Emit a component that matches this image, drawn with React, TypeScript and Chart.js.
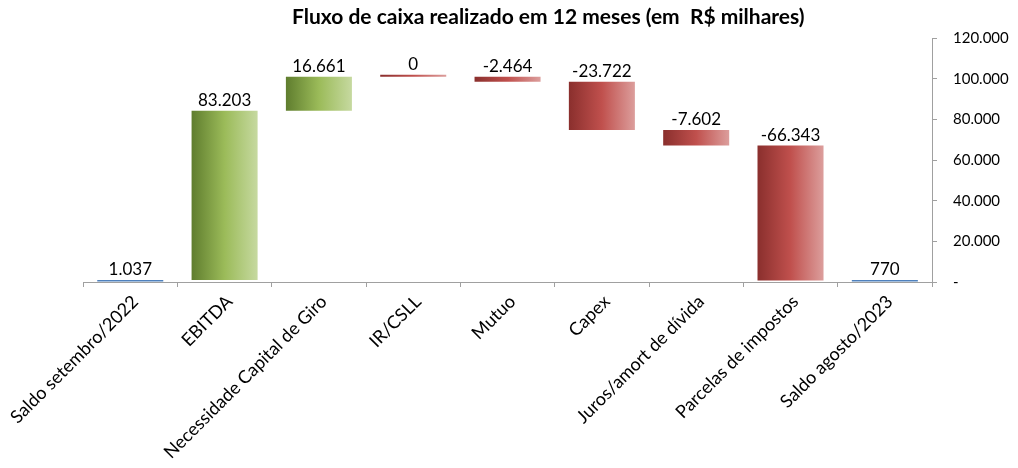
import React, { useEffect, useRef } from 'react';
import { Chart, registerables } from 'chart.js';

Chart.register(...registerables);

const titleText = 'Fluxo de caixa realizado em 12 meses (em  R$ milhares)';
const categories = [
  'Saldo setembro/2022',
  'EBITDA',
  'Necessidade Capital de Giro',
  'IR/CSLL',
  'Mutuo',
  'Capex',
  'Juros/amort de dívida',
  'Parcelas de impostos',
  'Saldo agosto/2023',
];
const changes = [1037, 83203, 16661, 0, -2464, -23722, -7602, -66343, 770];
const isTotal = [true, false, false, false, false, false, false, false, true];
const yMin = 0;
const yMax = 120000;
const yStep = 20000;

const FONT = 'Lato, "Open Sans", sans-serif';
const BAR_PCT = 0.7;

function fmt(v: number): string {
  const neg = v < 0;
  const s = Math.round(Math.abs(v)).toString();
  const withDots = s.replace(/\B(?=(\d{3})+(?!\d))/g, '.');
  return (neg ? '-' : '') + withDots;
}

function buildRanges(): [number, number][] {
  let running = 0;
  return changes.map((c, i) => {
    if (isTotal[i]) {
      running = c;
      return [0, c] as [number, number];
    }
    const r: [number, number] = [running, running + c];
    running += c;
    return r;
  });
}

const labelPlugin = {
  id: 'valueLabels',
  afterDatasetsDraw(chart: any) {
    const ctx = chart.ctx;
    const meta = chart.getDatasetMeta(0);
    ctx.save();
    ctx.font = `17px ${FONT}`;
    ctx.fillStyle = '#000';
    ctx.textAlign = 'center';
    ctx.textBaseline = 'bottom';
    meta.data.forEach((el: any, i: number) => {
      const top = Math.min(el.y, el.base);
      ctx.fillText(fmt(changes[i]), el.x, top - 2);
    });
    ctx.restore();
  },
};

const titlePlugin = {
  id: 'customTitle',
  afterDraw(chart: any) {
    const ctx = chart.ctx;
    const area = chart.chartArea;
    ctx.save();
    ctx.font = `bold 21px ${FONT}`;
    ctx.fillStyle = '#000';
    ctx.textAlign = 'center';
    ctx.textBaseline = 'alphabetic';
    ctx.fillText(titleText, area.left + (area.right - area.left) * 0.548, 24);
    ctx.restore();
  },
};

export default function App() {
  const ref = useRef<HTMLCanvasElement | null>(null);

  useEffect(() => {
    document.body.style.margin = '0';
    const canvas = ref.current;
    if (!canvas) return;
    const ranges = buildRanges();

    const colorFor = (c: any) => {
      const i = c.dataIndex;
      if (isTotal[i]) return '#4f81bd';
      const chart = c.chart;
      const xs = chart.scales.x;
      if (!xs || xs.width === undefined) return changes[i] > 0 ? '#9bbb59' : '#c0504d';
      const cx = xs.getPixelForValue(i);
      const w = (xs.width / categories.length) * BAR_PCT;
      const g = chart.ctx.createLinearGradient(cx - w / 2, 0, cx + w / 2, 0);
      if (changes[i] > 0) {
        g.addColorStop(0, '#5f7d2e');
        g.addColorStop(0.5, '#9bbb59');
        g.addColorStop(1, '#c6d9a0');
      } else {
        g.addColorStop(0, '#8a2f2d');
        g.addColorStop(0.5, '#c0504d');
        g.addColorStop(1, '#dc9e9c');
      }
      return g;
    };

    const chart = new Chart(canvas, {
      type: 'bar',
      data: {
        labels: categories,
        datasets: [
          {
            data: ranges as any,
            backgroundColor: colorFor as any,
            borderWidth: 0,
            barPercentage: BAR_PCT,
            categoryPercentage: 1,
            minBarLength: 2,
          },
        ],
      },
      options: {
        animation: false,
        responsive: true,
        maintainAspectRatio: false,
        layout: { padding: { top: 38, left: 83, right: 0, bottom: 0 } },
        plugins: {
          legend: { display: false },
          title: { display: false },
          tooltip: { enabled: false },
        },
        scales: {
          x: {
            afterFit: (s: any) => {
              s.height = 186;
            },
            grid: {
              offset: true,
              drawOnChartArea: false,
              drawTicks: true,
              tickLength: 5,
              color: '#a0a0a0',
            },
            border: { color: '#a0a0a0' },
            ticks: {
              minRotation: 45,
              maxRotation: 45,
              autoSkip: false,
              color: '#000',
              font: { family: FONT, size: 18 },
              padding: 4,
              labelOffset: 5,
            },
          },
          y: {
            position: 'right',
            min: yMin,
            max: yMax,
            afterFit: (s: any) => {
              s.width = 86;
            },
            grid: {
              drawOnChartArea: false,
              drawTicks: true,
              tickLength: 5,
              color: '#a0a0a0',
            },
            border: { color: '#a0a0a0' },
            ticks: {
              stepSize: yStep,
              color: '#000',
              font: { family: FONT, size: 15 },
              padding: 16,
              callback: (v: any) => (Number(v) === 0 ? '-' : fmt(Number(v))),
            },
          },
        },
      },
      plugins: [labelPlugin, titlePlugin],
    });

    return () => chart.destroy();
  }, []);

  return (
    <div style={{ width: 1018, height: 468, position: 'relative' }}>
      <canvas ref={ref} />
    </div>
  );
}
